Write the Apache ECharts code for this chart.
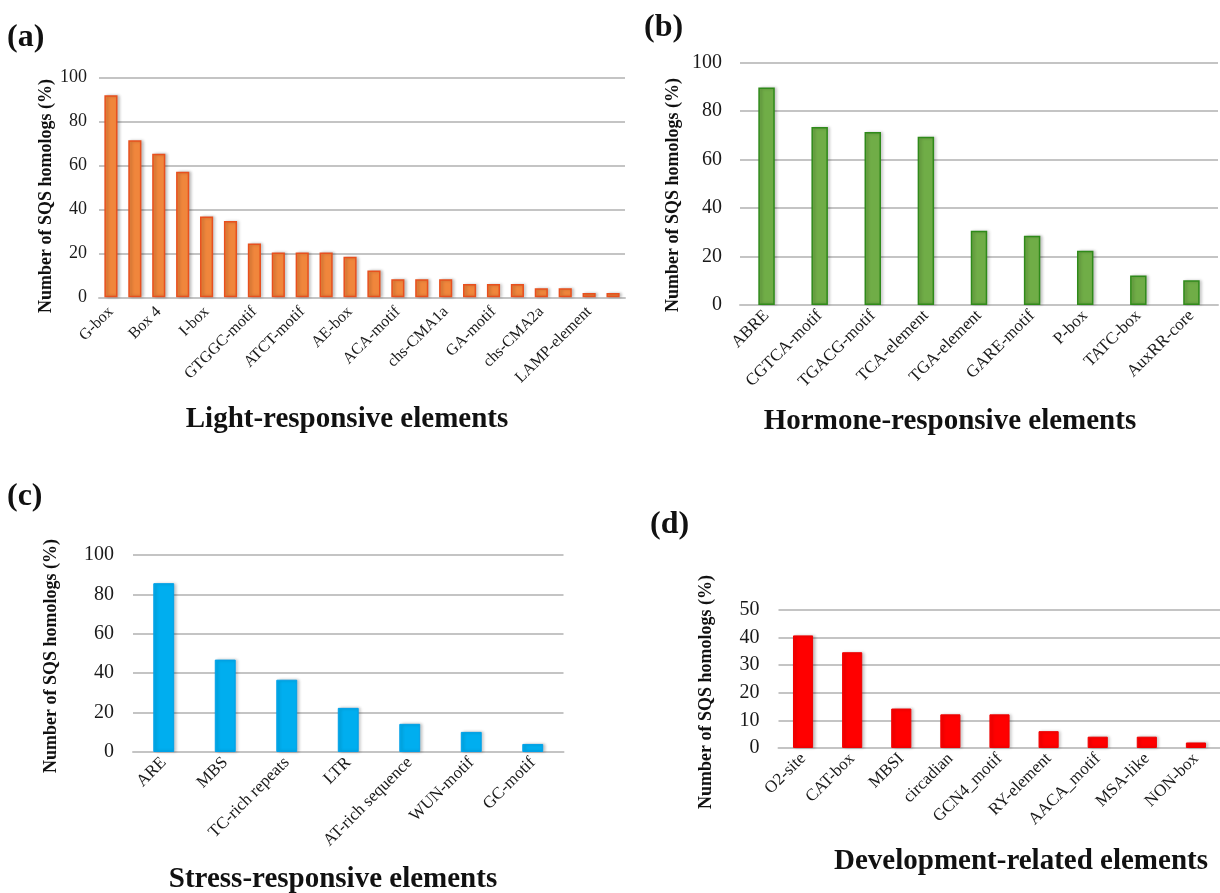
<!DOCTYPE html>
<html>
<head>
<meta charset="utf-8">
<script src="https://cdn.jsdelivr.net/npm/echarts@6/dist/echarts.min.js"></script>
<style>
html,body{margin:0;padding:0;background:#fff;}
#chart{width:1220px;height:893px;}
</style>
</head>
<body>
<div id="chart"></div>
<script>
// ---- Data ----
const lightCategories = ['G-box','GT1-motif','Box 4','TCT-motif','I-box','MRE','GTGGC-motif','GATA-motif','ATCT-motif','TCCC-motif','AE-box','Sp1','ACA-motif','chs-Unit 1 m1','chs-CMA1a','ATC-motif','GA-motif','CAG-motif','chs-CMA2a','3-AF1 binding site','LAMP-element','AT1-motif'];
const lightValues = [91.8,71.4,65.3,57.1,36.7,34.7,24.5,20.4,20.4,20.4,18.4,12.2,8.2,8.2,8.2,6.1,6.1,6.1,4.1,4.1,2.0,2.0];

const hormoneCategories = ['ABRE','CGTCA-motif','TGACG-motif','TCA-element','TGA-element','GARE-motif','P-box','TATC-box','AuxRR-core'];
const hormoneValues = [89.8,73.5,71.4,69.4,30.6,28.6,22.4,12.2,10.2];

const stressCategories = ['ARE','MBS','TC-rich repeats','LTR','AT-rich sequence','WUN-motif','GC-motif'];
const stressValues = [85.7,46.9,36.7,22.4,14.3,10.2,4.1];

const devCategories = ['O2-site','CAT-box','MBSI','circadian','GCN4_motif','RY-element','AACA_motif','MSA-like','NON-box'];
const devValues = [40.8,34.7,14.3,12.2,12.2,6.1,4.1,4.1,2.0];

const yTicks100 = [0,20,40,60,80,100];
const yTicks50 = [0,10,20,30,40,50];

const yTitle = 'Number of SQS homologs (%)';
const panelTitles = ['Light-responsive elements','Hormone-responsive elements','Stress-responsive elements','Development-related elements'];
const panelTags = ['(a)','(b)','(c)','(d)'];

// ---- Chart ----
const SERIF = '"Liberation Serif","DejaVu Serif",serif';
const chart = echarts.init(document.getElementById('chart'), null, {renderer:'canvas'});

const grids = [
  {left:99, top:77.3, width:526, height:220},
  {left:740, top:62.7, width:478, height:242.3},
  {left:133, top:555, width:430.5, height:197},
  {left:778.5, top:610, width:442, height:138}
];

function xAxis(i, data, fontSize, interval, margin){
  return {
    type:'category', gridIndex:i, data:data,
    axisLine:{show:true, lineStyle:{color:'#c4c4c4', width:2}},
    axisTick:{show:false},
    axisLabel:{rotate:45, interval:interval, margin:margin, fontFamily:SERIF, fontSize:fontSize, color:'#1a1a1a'}
  };
}
function yAxis(i, max, interval, fontSize, margin){
  return {
    type:'value', gridIndex:i, min:0, max:max, interval:interval,
    axisLine:{show:false}, axisTick:{show:false},
    axisLabel:{fontFamily:SERIF, fontSize:fontSize, color:'#1a1a1a', margin:margin},
    splitLine:{lineStyle:{color:'#c4c4c4', width:2}}
  };
}
const shadow = {shadowColor:'rgba(0,0,0,0.22)', shadowBlur:3, shadowOffsetX:2, shadowOffsetY:0};

const option = {
  backgroundColor:'#ffffff',
  animation:false,
  grid: grids.map(g => Object.assign({containLabel:false, outerBoundsMode:'none'}, g)),
  xAxis:[
    xAxis(0, lightCategories, 16, 1, 12),
    xAxis(1, hormoneCategories, 17, 0, 8),
    xAxis(2, stressCategories, 17, 0, 8),
    xAxis(3, devCategories, 17, 0, 8)
  ],
  yAxis:[
    yAxis(0, 100, 20, 18, 12),
    yAxis(1, 100, 20, 20, 18),
    yAxis(2, 100, 20, 20, 19),
    yAxis(3, 50, 10, 20, 19)
  ],
  series:[
    {type:'bar', xAxisIndex:0, yAxisIndex:0, data:lightValues, barWidth:'55%',
     itemStyle:Object.assign({color:'#F0863C', borderColor:'#E8501E', borderWidth:1.5}, shadow)},
    {type:'bar', xAxisIndex:1, yAxisIndex:1, data:hormoneValues, barWidth:'31%',
     itemStyle:Object.assign({color:'#70AD47', borderColor:'#2F8A1A', borderWidth:1.5}, shadow)},
    {type:'bar', xAxisIndex:2, yAxisIndex:2, data:stressValues, barWidth:'34%',
     itemStyle:Object.assign({color:'#00AEEF', borderColor:'#00A0E8', borderWidth:1}, shadow)},
    {type:'bar', xAxisIndex:3, yAxisIndex:3, data:devValues, barWidth:'41%',
     itemStyle:Object.assign({color:'#FF0000', borderColor:'#F00000', borderWidth:1}, shadow)}
  ],
  graphic:[
    {type:'text', x:7, y:38, style:{text:panelTags[0], font:'bold 32px '+SERIF, fill:'#111', textVerticalAlign:'middle'}},
    {type:'text', x:644, y:28, style:{text:panelTags[1], font:'bold 32px '+SERIF, fill:'#111', textVerticalAlign:'middle'}},
    {type:'text', x:7, y:497, style:{text:panelTags[2], font:'bold 32px '+SERIF, fill:'#111', textVerticalAlign:'middle'}},
    {type:'text', x:650, y:525, style:{text:panelTags[3], font:'bold 32px '+SERIF, fill:'#111', textVerticalAlign:'middle'}},

    {type:'text', x:46, y:196, rotation:Math.PI/2, style:{text:yTitle, font:'bold 18px '+SERIF, fill:'#111', textAlign:'center', textVerticalAlign:'middle'}},
    {type:'text', x:673, y:195, rotation:Math.PI/2, style:{text:yTitle, font:'bold 18px '+SERIF, fill:'#111', textAlign:'center', textVerticalAlign:'middle'}},
    {type:'text', x:51, y:656, rotation:Math.PI/2, style:{text:yTitle, font:'bold 18px '+SERIF, fill:'#111', textAlign:'center', textVerticalAlign:'middle'}},
    {type:'text', x:706, y:692, rotation:Math.PI/2, style:{text:yTitle, font:'bold 18px '+SERIF, fill:'#111', textAlign:'center', textVerticalAlign:'middle'}},

    {type:'text', x:347, y:420, style:{text:panelTitles[0], font:'bold 29px '+SERIF, fill:'#111', textAlign:'center', textVerticalAlign:'middle'}},
    {type:'text', x:950, y:422, style:{text:panelTitles[1], font:'bold 29px '+SERIF, fill:'#111', textAlign:'center', textVerticalAlign:'middle'}},
    {type:'text', x:333, y:880, style:{text:panelTitles[2], font:'bold 29px '+SERIF, fill:'#111', textAlign:'center', textVerticalAlign:'middle'}},
    {type:'text', x:1021, y:862, style:{text:panelTitles[3], font:'bold 29px '+SERIF, fill:'#111', textAlign:'center', textVerticalAlign:'middle'}}
  ]
};
chart.setOption(option);
</script>
</body>
</html>
